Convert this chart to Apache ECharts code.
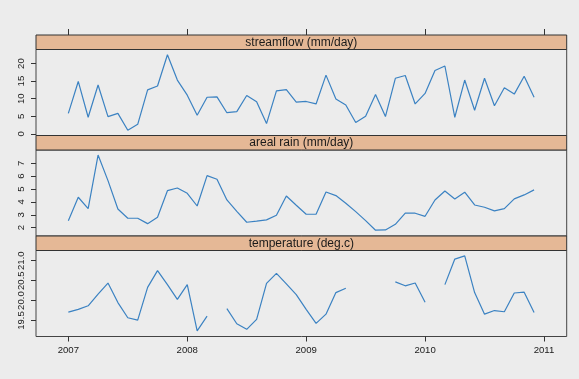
<!DOCTYPE html>
<html>
<head>
<meta charset="utf-8">
<script src="https://cdn.jsdelivr.net/npm/echarts@6/dist/echarts.min.js"></script>
<style>
html,body{margin:0;padding:0;background:#ececec;}
#c{width:579px;height:379px;}
</style>
</head>
<body>
<div id="c"></div>
<script>
const months = ['2007-01','2007-02','2007-03','2007-04','2007-05','2007-06','2007-07','2007-08','2007-09','2007-10','2007-11','2007-12',
'2008-01','2008-02','2008-03','2008-04','2008-05','2008-06','2008-07','2008-08','2008-09','2008-10','2008-11','2008-12',
'2009-01','2009-02','2009-03','2009-04','2009-05','2009-06','2009-07','2009-08','2009-09','2009-10','2009-11','2009-12',
'2010-01','2010-02','2010-03','2010-04','2010-05','2010-06','2010-07','2010-08','2010-09','2010-10','2010-11','2010-12'];
const streamflow = [5.8,14.9,4.7,13.9,4.9,5.8,1.0,2.7,12.5,13.6,22.5,15.3,11.0,5.3,10.4,10.5,6.0,6.3,10.9,9.1,2.9,12.2,12.6,9.0,9.2,8.5,16.7,9.9,8.2,3.2,5.0,11.2,4.9,15.8,16.6,8.5,11.5,18.0,19.3,4.7,15.3,6.7,15.8,8.0,13.1,11.3,16.4,10.4];
const rain = [2.54,4.36,3.48,7.64,5.65,3.45,2.73,2.73,2.31,2.81,4.87,5.08,4.67,3.68,6.04,5.76,4.15,3.27,2.42,2.5,2.6,2.96,4.46,3.74,3.04,3.04,4.77,4.49,3.9,3.24,2.54,1.8,1.82,2.26,3.12,3.12,2.88,4.15,4.85,4.23,4.75,3.76,3.58,3.3,3.48,4.23,4.54,4.93];
const temperature = [19.71,19.78,19.87,20.16,20.44,19.95,19.57,19.51,20.33,20.75,20.4,20.03,20.4,19.24,19.61,null,19.8,19.42,19.28,19.53,20.43,20.68,20.42,20.15,19.78,19.43,19.66,20.2,20.31,null,null,null,null,20.47,20.37,20.44,19.96,null,20.4,21.04,21.12,20.2,19.66,19.75,19.72,20.19,20.21,19.7];
const panelTitles = ['streamflow (mm/day)','areal rain (mm/day)','temperature (deg.c)'];
const xTicks = [2007,2008,2009,2010,2011];
const yTicks1 = [0,5,10,15,20];
const yTicks2 = [2,3,4,5,6,7];
const yTicks3 = [19.5,20.0,20.5,21.0];

const xs = months.map(m => { const p = m.split('-'); return +p[0] + (+p[1]-1)/12; });
const pairs = arr => arr.map((v,i) => [xs[i], v == null ? '-' : v]);

const gridTops = [49.5, 150, 250.5];
const gridH = 86;
const stripH = 14.5;
const L = 36, R = 12.3;
const lineColor = '#3b82c2';
const txt = '#1a1a1a';
const fs = 9.6;

function yAxis(i, min, max, ticks, dec){
  return {type:'value', gridIndex:i, min:min, max:max, position:'left',
    axisLine:{show:false}, splitLine:{show:false},
    axisTick:{show:true, length:5, customValues:ticks, lineStyle:{color:'#333'}},
    axisLabel:{show:true, rotate:90, margin:10, fontSize:fs, color:txt, fontFamily:'Liberation Sans, Arial, sans-serif',
      customValues:ticks, formatter: v => dec ? (+v).toFixed(1) : String(v)}};
}
function xAxis(i, opts){
  return Object.assign({type:'value', gridIndex:i, min:2006.728, max:2011.191,
    axisLine:{show:false}, splitLine:{show:false},
    axisTick:{show:false}, axisLabel:{show:false}}, opts||{});
}

const graphics = [];
gridTops.forEach((t,i) => {
  graphics.push({type:'rect', shape:{x:L, y:t-stripH, width:579-L-R, height:stripH},
    style:{fill:'#e5b896', stroke:'#333', lineWidth:1}, z:10});
  graphics.push({type:'text', x:(L+579-R)/2, y:t-stripH/2,
    style:{text:panelTitles[i], fill:txt, font:'12px "Liberation Sans", Arial, sans-serif', textAlign:'center', textVerticalAlign:'middle'}, z:11});
});

const chart = echarts.init(document.getElementById('c'), null, {renderer:'canvas'});
chart.setOption({
  backgroundColor:'#ececec',
  animation:false,
  grid: gridTops.map(t => ({left:L, right:R, top:t, height:gridH, show:true, borderColor:'#444', borderWidth:1, backgroundColor:'#ececec'})),
  xAxis: [
    xAxis(0),
    xAxis(1),
    xAxis(2, {position:'bottom',
      axisTick:{show:true, length:5, customValues:xTicks, lineStyle:{color:'#333'}},
      axisLabel:{show:true, margin:9, fontSize:fs, color:txt, fontFamily:'Liberation Sans, Arial, sans-serif', customValues:xTicks, formatter:v=>String(v)}}),
    xAxis(0, {position:'top', offset:stripH,
      axisTick:{show:true, length:6, customValues:xTicks, lineStyle:{color:'#333'}}})
  ],
  yAxis: [
    yAxis(0, -0.49, 24.0, yTicks1, false),
    yAxis(1, 1.35, 8.03, yTicks2, false),
    yAxis(2, 19.1, 21.255, yTicks3, true)
  ],
  series: [
    {type:'line', xAxisIndex:0, yAxisIndex:0, data:pairs(streamflow), showSymbol:false, symbol:'none', lineStyle:{color:lineColor, width:1.2}},
    {type:'line', xAxisIndex:1, yAxisIndex:1, data:pairs(rain), showSymbol:false, symbol:'none', lineStyle:{color:lineColor, width:1.2}},
    {type:'line', xAxisIndex:2, yAxisIndex:2, data:pairs(temperature), showSymbol:false, symbol:'none', connectNulls:false, lineStyle:{color:lineColor, width:1.2}}
  ],
  graphic: graphics
});
</script>
</body>
</html>
